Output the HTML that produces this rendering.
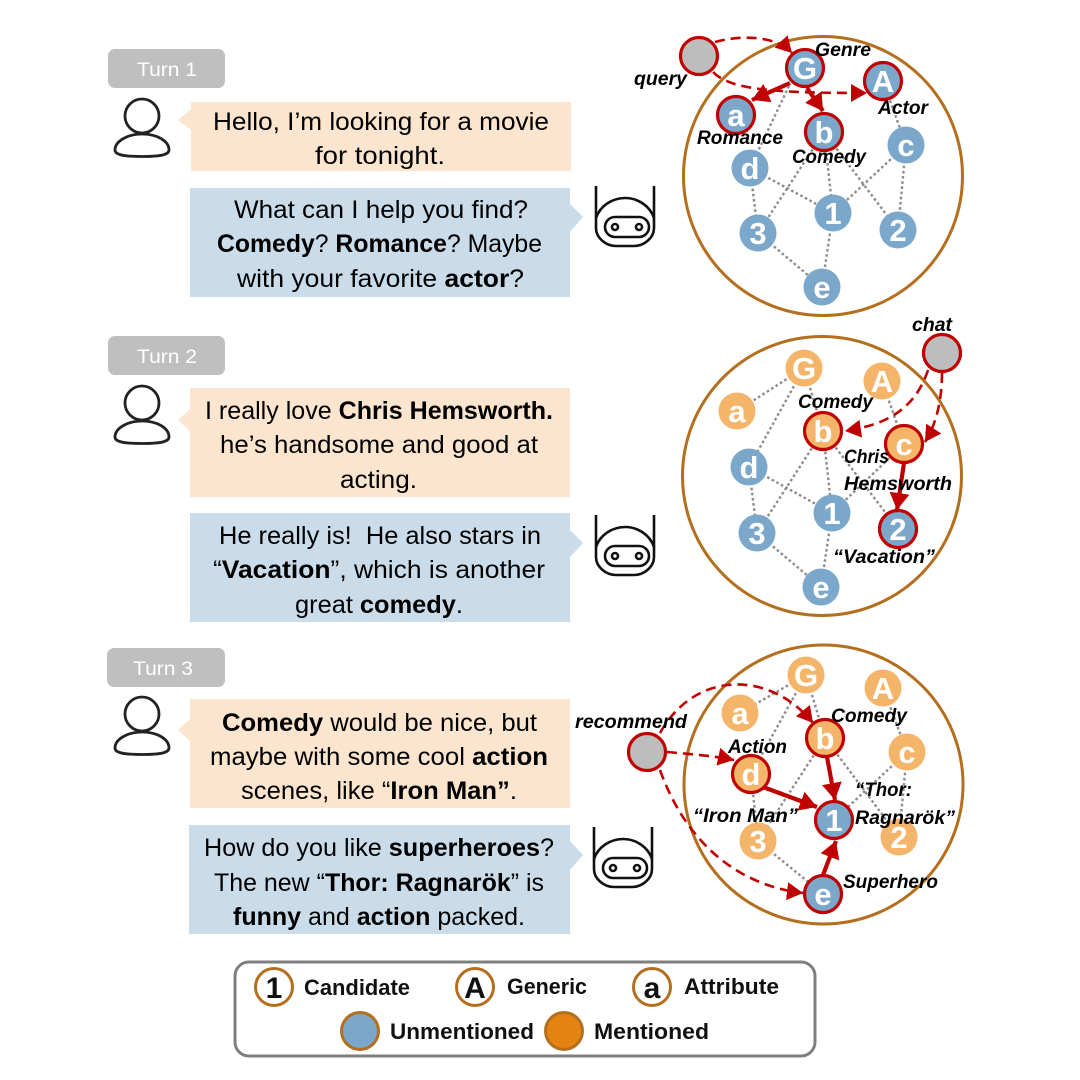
<!DOCTYPE html>
<html><head><meta charset="utf-8"><style>
html,body{margin:0;padding:0;background:#fff}
svg{display:block;filter:blur(.35px)}
.t{font:25px "Liberation Sans",sans-serif;fill:#000}
.t tspan{font-weight:bold}
.tag{font:19px "Liberation Sans",sans-serif;fill:#fff}
.n{font:bold 31px "Liberation Sans",sans-serif;fill:#fff;text-anchor:middle}
.l{font:italic bold 19px "Liberation Sans",sans-serif;fill:#000}
.g{font:bold 22px "Liberation Sans",sans-serif;fill:#111}
.k{font:bold 30px "Liberation Sans",sans-serif;fill:#111;text-anchor:middle}
.e{stroke:#8c8c8c;stroke-width:2.4;stroke-dasharray:2.6 2.6;fill:none}
.b{fill:#7BA7CB}.o{fill:#F4B56B}
.s{stroke:#C00000;stroke-width:3.2}
.d{stroke:#C00000;stroke-width:2.6;stroke-dasharray:10 6;fill:none;marker-end:url(#m)}
.r{stroke:#C00000;stroke-width:4.2;fill:none;marker-end:url(#m2)}
</style></head><body>
<svg width="1080" height="1080" viewBox="0 0 1080 1080" xmlns="http://www.w3.org/2000/svg">
<defs>
<marker id="m" markerUnits="userSpaceOnUse" markerWidth="20" markerHeight="20" refX="16" refY="9" orient="auto"><path d="M0 0L16 9L0 18Z" fill="#C00000"/></marker>
<marker id="m2" markerUnits="userSpaceOnUse" markerWidth="20" markerHeight="22" refX="17" refY="10" orient="auto"><path d="M0 0L17 10L0 20Z" fill="#C00000"/></marker>
<g id="person" fill="none" stroke="#222" stroke-width="2.8"><circle cx="142" cy="116" r="17"/><path d="M115 150C115 141 128 134 142 134C157 134 169 141 169 150C169 155 160 156.500 142 156.500C124 156.500 115 155 115 150Z"/></g>
<g id="robot" fill="none" stroke="#111" stroke-width="2.6"><path d="M596 186V228C596 238 606 246 616 246H634C644 246 654 238 654 228V186"/><path d="M596 218C600 206 612 198 625 198C638 198 650 206 654 218"/><rect x="605" y="217" width="44" height="20" rx="10"/><circle cx="615" cy="227" r="3"/><circle cx="639" cy="227" r="3"/></g>
</defs>

<!-- Turn tags -->
<rect x="108" y="49" width="117" height="39" rx="7" fill="#BFBFBF"/>
<text class="tag" x="137" y="76" textLength="60" lengthAdjust="spacingAndGlyphs">Turn 1</text>
<rect x="108" y="336" width="117" height="39" rx="7" fill="#BFBFBF"/>
<text class="tag" x="137" y="363" textLength="60" lengthAdjust="spacingAndGlyphs">Turn 2</text>
<rect x="107" y="648" width="118" height="39" rx="7" fill="#BFBFBF"/>
<text class="tag" x="133" y="675" textLength="60" lengthAdjust="spacingAndGlyphs">Turn 3</text>

<!-- Bubbles -->
<path d="M191 102H571V171H191V130L178 120L191 109Z" fill="#FBE5CE"/>
<path d="M190 188H570V204L583 217L570 232V297H190Z" fill="#CADCE9"/>
<path d="M190 388H570V497H190V431L178 420L190 409Z" fill="#FBE5CE"/>
<path d="M190 513H570V530L583 543L570 557V622H190Z" fill="#CADCE9"/>
<path d="M190 699H570V808H190V741L178 730L190 719Z" fill="#FBE5CE"/>
<path d="M189 825H570V841L583 855L570 870V934H189Z" fill="#CADCE9"/>

<text class="t" x="213" y="130" textLength="336" lengthAdjust="spacingAndGlyphs">Hello, I’m looking for a movie</text>
<text class="t" x="315" y="164" textLength="130" lengthAdjust="spacingAndGlyphs">for tonight.</text>
<text class="t" x="234" y="218" textLength="294" lengthAdjust="spacingAndGlyphs">What can I help you find?</text>
<text class="t" x="217" y="252" textLength="325" lengthAdjust="spacingAndGlyphs"><tspan>Comedy</tspan>? <tspan>Romance</tspan>? Maybe</text>
<text class="t" x="237" y="287" textLength="287" lengthAdjust="spacingAndGlyphs">with your favorite <tspan>actor</tspan>?</text>

<text class="t" x="205" y="419" textLength="348" lengthAdjust="spacingAndGlyphs">I really love <tspan>Chris Hemsworth.</tspan></text>
<text class="t" x="220" y="453" textLength="318" lengthAdjust="spacingAndGlyphs">he’s handsome and good at</text>
<text class="t" x="340" y="488" textLength="77" lengthAdjust="spacingAndGlyphs">acting.</text>
<text class="t" x="219" y="544" textLength="322" lengthAdjust="spacingAndGlyphs" xml:space="preserve">He really is!  He also stars in</text>
<text class="t" x="213" y="578" textLength="332" lengthAdjust="spacingAndGlyphs">“<tspan>Vacation</tspan>”, which is another</text>
<text class="t" x="295" y="613" textLength="168" lengthAdjust="spacingAndGlyphs">great <tspan>comedy</tspan>.</text>

<text class="t" x="222" y="731" textLength="315" lengthAdjust="spacingAndGlyphs"><tspan>Comedy</tspan> would be nice, but</text>
<text class="t" x="210" y="765" textLength="338" lengthAdjust="spacingAndGlyphs">maybe with some cool <tspan>action</tspan></text>
<text class="t" x="241" y="799" textLength="276" lengthAdjust="spacingAndGlyphs">scenes, like “<tspan>Iron Man”</tspan>.</text>
<text class="t" x="204" y="856" textLength="350" lengthAdjust="spacingAndGlyphs">How do you like <tspan>superheroes</tspan>?</text>
<text class="t" x="214" y="891" textLength="330" lengthAdjust="spacingAndGlyphs">The new “<tspan>Thor: Ragnarök</tspan>” is</text>
<text class="t" x="233" y="925" textLength="292" lengthAdjust="spacingAndGlyphs"><tspan>funny</tspan> and <tspan>action</tspan> packed.</text>

<!-- Icons -->
<use href="#person"/>
<use href="#person" y="287"/>
<use href="#person" y="598"/>
<use href="#robot"/>
<use href="#robot" y="329"/>
<use href="#robot" x="-2" y="641"/>

<!-- Graph 1 -->
<circle cx="823" cy="176" r="139.500" fill="none" stroke="#B46F1E" stroke-width="3"/>
<path class="e" d="M789 86L750 168M824 132L758 233M824 132L833 213M824 132L898 230M883 81L906 145M906 145L833 213M906 145L898 230M750 168L833 213M750 168L758 233M758 233L822 287M833 213L822 287"/>
<circle class="b" cx="750" cy="168" r="18.500"/><circle class="b" cx="906" cy="145" r="18.500"/><circle class="b" cx="833" cy="213" r="18.500"/><circle class="b" cx="898" cy="230" r="18.500"/><circle class="b" cx="758" cy="233" r="18.500"/><circle class="b" cx="822" cy="287" r="18.500"/>
<circle class="b s" cx="805" cy="68" r="18.500"/><circle class="b s" cx="883" cy="81" r="18.500"/><circle class="b s" cx="736" cy="115" r="18.500"/><circle class="b s" cx="824" cy="132" r="18.500"/>
<circle cx="699" cy="56" r="18.500" fill="#BDBDBD" class="s"/>
<path class="d" d="M715 42C740 35 775 35 792 53"/>
<path class="d" d="M713 72C730 90 775 93 867 93"/>
<path class="r" d="M790 83L752 100"/>
<path class="r" d="M807 88L823 111"/>
<text class="n" x="805" y="79">G</text><text class="n" x="883" y="92">A</text><text class="n" x="736" y="126">a</text><text class="n" x="824" y="143">b</text><text class="n" x="906" y="156">c</text><text class="n" x="750" y="179">d</text><text class="n" x="833" y="224">1</text><text class="n" x="898" y="241">2</text><text class="n" x="758" y="244">3</text><text class="n" x="822" y="298">e</text>
<text class="l" x="634" y="85" textLength="53" lengthAdjust="spacingAndGlyphs">query</text>
<text class="l" x="815" y="56" textLength="56" lengthAdjust="spacingAndGlyphs">Genre</text>
<text class="l" x="878" y="114" textLength="50" lengthAdjust="spacingAndGlyphs">Actor</text>
<text class="l" x="697" y="144" textLength="86" lengthAdjust="spacingAndGlyphs">Romance</text>
<text class="l" x="792" y="163" textLength="74" lengthAdjust="spacingAndGlyphs">Comedy</text>

<!-- Graph 2 -->
<circle cx="822" cy="476" r="139.500" fill="none" stroke="#B46F1E" stroke-width="3"/>
<path class="e" d="M804 368L737 411M804 368L749 467M804 368L823 431M882 381L904 444M823 431L757 533M823 431L832 513M823 431L898 529M904 444L832 513M749 467L832 513M749 467L757 533M757 533L821 587M832 513L821 587"/>
<circle class="o" cx="804" cy="368" r="18.500"/><circle class="o" cx="882" cy="381" r="18.500"/><circle class="o" cx="737" cy="411" r="18.500"/>
<circle class="b" cx="749" cy="467" r="18.500"/><circle class="b" cx="832" cy="513" r="18.500"/><circle class="b" cx="757" cy="533" r="18.500"/><circle class="b" cx="821" cy="587" r="18.500"/>
<circle class="o s" cx="823" cy="431" r="18.500"/><circle class="o s" cx="904" cy="444" r="18.500"/><circle class="b s" cx="898" cy="529" r="18.500"/>
<circle cx="942" cy="353" r="18.500" fill="#BDBDBD" class="s"/>
<path class="d" d="M928 370C915 410 885 425 845 431"/>
<path class="d" d="M942 373C942 400 936 425 925 442"/>
<path class="r" d="M904 463L897 510"/>
<text class="n" x="804" y="379">G</text><text class="n" x="882" y="392">A</text><text class="n" x="737" y="422">a</text><text class="n" x="823" y="442">b</text><text class="n" x="904" y="455">c</text><text class="n" x="749" y="478">d</text><text class="n" x="832" y="524">1</text><text class="n" x="898" y="540">2</text><text class="n" x="757" y="544">3</text><text class="n" x="821" y="598">e</text>
<text class="l" x="912" y="331" textLength="40" lengthAdjust="spacingAndGlyphs">chat</text>
<text class="l" x="798" y="408" textLength="75" lengthAdjust="spacingAndGlyphs">Comedy</text>
<text class="l" x="844" y="463" textLength="45" lengthAdjust="spacingAndGlyphs">Chris</text>
<text class="l" x="844" y="490" textLength="108" lengthAdjust="spacingAndGlyphs">Hemsworth</text>
<text class="l" x="833" y="563" textLength="102" lengthAdjust="spacingAndGlyphs">“Vacation”</text>

<!-- Graph 3 -->
<circle cx="823.500" cy="784.500" r="139.500" fill="none" stroke="#B46F1E" stroke-width="3"/>
<path class="e" d="M806 675L740 713M806 675L751 774M806 675L825 738M883 688L907 752M825 738L758 841M825 738L899 837M907 752L834 820M907 752L899 837M751 774L758 841M758 841L823 894"/>
<circle class="o" cx="806" cy="675" r="18.500"/><circle class="o" cx="883" cy="688" r="18.500"/><circle class="o" cx="740" cy="713" r="18.500"/><circle class="o" cx="907" cy="752" r="18.500"/><circle class="o" cx="899" cy="837" r="18.500"/><circle class="o" cx="758" cy="841" r="18.500"/>
<circle class="o s" cx="825" cy="738" r="18.500"/><circle class="o s" cx="751" cy="774" r="18.500"/><circle class="b s" cx="834" cy="820" r="18.500"/><circle class="b s" cx="823" cy="894" r="18.500"/>
<circle cx="647" cy="752" r="18.500" fill="#BDBDBD" class="s"/>
<path class="d" d="M660 733C695 670 770 670 813 723"/>
<path class="d" d="M667 752C690 754 715 756 734 760"/>
<path class="d" d="M660 770C685 840 735 885 803 893"/>
<path class="r" d="M827 757L835 800"/>
<path class="r" d="M763 787L817 807"/>
<path class="r" d="M823 875L836 841"/>
<text class="n" x="806" y="686">G</text><text class="n" x="883" y="699">A</text><text class="n" x="740" y="724">a</text><text class="n" x="825" y="749">b</text><text class="n" x="907" y="763">c</text><text class="n" x="751" y="785">d</text><text class="n" x="834" y="831">1</text><text class="n" x="899" y="848">2</text><text class="n" x="758" y="852">3</text><text class="n" x="823" y="905">e</text>
<text class="l" x="575" y="728" textLength="112" lengthAdjust="spacingAndGlyphs">recommend</text>
<text class="l" x="831" y="722" textLength="76" lengthAdjust="spacingAndGlyphs">Comedy</text>
<text class="l" x="728" y="753" textLength="59" lengthAdjust="spacingAndGlyphs">Action</text>
<text class="l" x="693" y="822" textLength="105" lengthAdjust="spacingAndGlyphs">“Iron Man”</text>
<text class="l" x="855" y="796" textLength="57" lengthAdjust="spacingAndGlyphs">“Thor:</text>
<text class="l" x="855" y="824" textLength="100" lengthAdjust="spacingAndGlyphs">Ragnarök”</text>
<text class="l" x="843" y="888" textLength="95" lengthAdjust="spacingAndGlyphs">Superhero</text>

<!-- Legend -->
<rect x="235" y="962" width="580" height="94" rx="14" fill="#fff" stroke="#7F7F7F" stroke-width="3"/>
<circle cx="274" cy="987" r="18.500" fill="#fff" stroke="#B46F1E" stroke-width="3"/><text class="k" x="274" y="998">1</text>
<circle cx="475" cy="987" r="18.500" fill="#fff" stroke="#B46F1E" stroke-width="3"/><text class="k" x="475" y="998">A</text>
<circle cx="652" cy="987" r="18.500" fill="#fff" stroke="#B46F1E" stroke-width="3"/><text class="k" x="652" y="998">a</text>
<circle cx="360" cy="1031" r="18.500" fill="#7BA7CB" stroke="#B46F1E" stroke-width="3"/>
<circle cx="564" cy="1031" r="18.500" fill="#E48312" stroke="#B46F1E" stroke-width="3"/>
<text class="g" x="304" y="995" textLength="106" lengthAdjust="spacingAndGlyphs">Candidate</text>
<text class="g" x="507" y="994" textLength="80" lengthAdjust="spacingAndGlyphs">Generic</text>
<text class="g" x="684" y="994" textLength="95" lengthAdjust="spacingAndGlyphs">Attribute</text>
<text class="g" x="390" y="1039" textLength="144" lengthAdjust="spacingAndGlyphs">Unmentioned</text>
<text class="g" x="594" y="1039" textLength="115" lengthAdjust="spacingAndGlyphs">Mentioned</text>
</svg>
</body></html>
